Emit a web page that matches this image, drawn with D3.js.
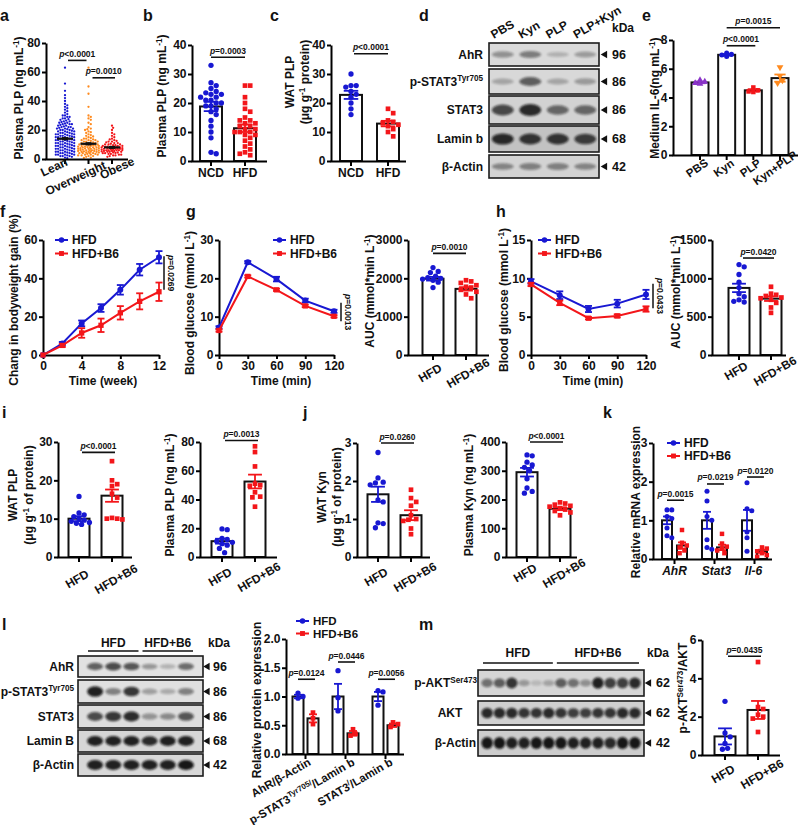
<!DOCTYPE html>
<html><head><meta charset="utf-8">
<script src="https://cdnjs.cloudflare.com/ajax/libs/d3/7.8.5/d3.min.js"></script>
<style>body{margin:0;background:#fff}svg{display:block}text{font-family:'Liberation Sans',Arial,sans-serif;font-weight:bold;fill:#111}</style>
</head><body><script>
// ---------------- DATA ----------------
const aCats=['Lean','Overweight','Obese'];
const aLean=[63,52,47,44,42,40,38,37,36,35,34,33,32,31,30,30,29,29,28,28,27.5,27,26.5,26,26,25.5,25,25,24.5,24,24,23.5,23,23,22.5,22,22,21.5,21,21,20.5,20,20,19.5,19,19,18.5,18,18,17.5,17,17,16.5,16,16,15.5,15,15,14.5,14,14,13.5,13,13,12.5,12,12,11.5,11,11,10.5,10,10,9.5,9,9,8.5,8,8,7.5,7,7,6.5,6,6,5.5,5,5,4.5,4,4,3.5,3,3,2.5,2,2,1.5,1,0.5,24,22,20,18,17,16,15,14,13,12,11,10,9,8,7,6,5,4,3,2,21,19,17,15,13,11,9,7,5,3];
const aOver=[63,50,45,36,30,29,28,27,25,24,22,21,20.5,20,19,18.5,18,17,16.5,16,15.5,15,14.5,14,13.5,13,13,12.5,12,12,11.5,11,11,10.5,10,10,10,9.5,9.5,9,9,8.5,8.5,8,8,8,7.5,7.5,7,7,7,6.5,6.5,6,6,6,5.5,5.5,5,5,5,4.5,4.5,4,4,4,3.5,3.5,3,3,2.5,2.5,2,2,1.5,1,0.8,12,11,10,9,8,7,6,5,4,3,14,13,9.2,8.2,7.2,6.2,5.2];
const aObese=[23,21.5,20,18,17,16,15,14,13.5,13,12.5,12,11.5,11,10.5,10,10,9.5,9.5,9,9,8.5,8.5,8,8,8,7.5,7.5,7.5,7,7,7,6.5,6.5,6.5,6,6,6,5.5,5.5,5.5,5,5,5,4.5,4.5,4,4,3.5,3.5,3,3,2.5,2.5,2,1.5,9,8,7,6,10,8.2,7.2,6.2,5.2,11,12,4.2];
const aMeans=[14,10.5,8], aSems=[0.6,0.6,0.5], aTicks=[0,20,40,60,80];

const bCats=['NCD','HFD'];
const bNCD=[33,27,26,25,24,23.5,23,23,22,22,21,21,20,20,19,19,18,17,16,14,12,10,8,3,2.5];
const bHFD=[26,26,22,20,18,17,15,14,14,13,13,12,12,11,11,10,10,10,9,9,8,7,6,5,4,3,2.5,2];
const bMeans=[18.8,11.3], bSems=[1.6,1.3], bTicks=[0,10,20,30,40];

const cNCD=[30,26,26,25.5,24,23,22,20,18,16];
const cHFD=[18,16.5,14,13.5,13,12.5,12,11,10,8.5];
const cMeans=[22.8,12.9], cSems=[1.4,0.95], cTicks=[0,10,20,30,40];

const dLanes=['PBS','Kyn','PLP','PLP+Kyn'];
const dRows=['AhR','p-STAT3{Tyr705}','STAT3','Lamin b','β-Actin'];
const dKda=[96,86,86,68,42];
const dBands=[[0.35,0.45,0.2,0.3],[0.25,0.6,0.25,0.3],[0.7,0.85,0.55,0.55],[0.85,0.8,0.8,0.75],[0.4,0.42,0.42,0.4]];

const eCats=['PBS','Kyn','PLP','Kyn+PLP'];
const ePts=[[5.2,5.1,5.0,4.95],[7.1,7.0,6.95,6.85],[4.7,4.5,4.42,4.38],[6.1,5.5,5.2,5.0]];
const eMeans=[5.05,6.97,4.5,5.35], eSems=[0.06,0.05,0.08,0.25], eTicks=[0,2,4,6,8];

const fWeeks=[0,2,4,6,8,10,12];
const fHFD=[0,6,16.5,24.5,34,44.5,51], fHFDe=[0,0.8,1.5,2,2.5,3,3.2];
const fB6=[0,5,11.5,15.5,22,28,33], fB6e=[0,0.8,2.5,3.5,3.5,4.2,4.8];

const gTime=[0,30,60,90,120];
const gHFD=[7.2,24.2,19.8,14.2,11.4], gHFDe=[0.3,0.3,0.6,0.5,0.4];
const gB6=[6.4,20.5,17,12.8,10.1], gB6e=[0.3,0.3,0.3,0.3,0.3];
const gAucHFD=[2280,2180,2150,2060,2020,2000,1980,1950,1900,1760];
const gAucB6=[1950,1920,1880,1820,1780,1760,1700,1650,1580,1480];
const gAucMeans=[1990,1725], gAucSems=[48,45];

const hHFD=[9.6,7.8,6.0,6.7,7.9], hHFDe=[0.3,0.5,0.4,0.5,0.6];
const hB6=[9.2,6.8,4.8,5.1,6.0], hB6e=[0.2,0.3,0.15,0.2,0.35];
const hAucHFD=[1180,1150,1050,950,880,800,760,720,700,690];
const hAucB6=[890,800,785,770,750,740,720,680,620,550];
const hAucMeans=[875,735], hAucSems=[55,30];

const grp=['HFD','HFD+B6'];
const iWatHFD=[15.8,11.5,11,10.5,10,9.6,9.3,9,8.8,8.5], iWatB6=[25,20,19,18.5,16.5,15.5,10.2,10,10,9.8];
const iWatMeans=[10,16], iWatSems=[0.65,1.6];
const iPlaHFD=[19.5,19,13,12.2,11,10.2,9.3,8.2,6,3], iPlaB6=[77,73,63,51,50,49.5,45,42,41.5,35];
const iPlaMeans=[11,52.5], iPlaSems=[1.7,4.8];
const jWatHFD=[2.75,2.08,1.97,1.95,1.9,1.5,1.45,0.9,0.88,0.77], jWatB6=[1.77,1.55,1.45,1.35,1.1,1.0,0.98,0.95,0.75,0.6];
const jWatMeans=[1.65,1.1], jWatSems=[0.2,0.13];
const jPlaHFD=[355,352,330,320,312,300,272,240,228,222], jPlaB6=[190,186,182,178,175,170,165,160,155,145];
const jPlaMeans=[295,168], jPlaSems=[15,5];

const kGenes=['AhR','Stat3','Il-6'];
const kHFD=[[1.27,1.27,1.1,1.05,0.8,0.6,0.55],[1.75,1.5,1.1,1.0,0.5,0.3,0.25],[1.97,1.3,1.25,0.7,0.55,0.2]];
const kB6=[[0.75,0.42,0.35,0.3,0.22,0.15],[0.65,0.4,0.32,0.27,0.22,0.15],[0.3,0.27,0.2,0.15,0.1,0.06]];
const kMeanHFD=[1,1,1], kSemHFD=[0.1,0.22,0.27], kMeanB6=[0.35,0.3,0.2], kSemB6=[0.08,0.07,0.04];
const kP=['=0.0015','=0.0219','=0.0120'], kPy=[1.52,1.94,2.12];

const lRows=['AhR','p-STAT3{Tyr705}','STAT3','Lamin B','β-Actin'];
const lKda=[96,86,86,68,42];
const lBands=[[0.6,0.7,0.65,0.35,0.22,0.55],[0.9,0.45,0.8,0.3,0.25,0.45],[0.7,0.8,0.85,0.35,0.4,0.65],[0.9,0.9,0.9,0.85,0.9,0.9],[0.9,0.9,0.9,0.9,0.9,0.95]];
const lRatios=['AhR/β-Actin','p-STAT3{Tyr705/}/Lamin b','STAT3{/}/Lamin b'];
const lHFD=[[1.06,1.0,0.97],[1.45,0.98,0.75],[1.1,1.08,0.85]], lB6=[[0.72,0.62,0.52],[0.43,0.35,0.32],[0.55,0.52,0.47]];
const lMeanHFD=[1,1,1], lSemHFD=[0.03,0.22,0.08], lMeanB6=[0.62,0.36,0.5], lSemB6=[0.07,0.04,0.03];
const lP=['=0.0124','=0.0446','=0.0056'], lPy=[1.3,1.6,1.3];

const mRows=['p-AKT{Ser473}','AKT','β-Actin'];
const mKda=[62,62,42];
const mBands=[[0.5,0.6,0.8,0.3,0.15,0.25,0.6,0.5,0.35,0.9,0.75,0.75,0.85],[0.85,0.85,0.85,0.8,0.8,0.85,0.8,0.75,0.75,0.8,0.8,0.85,0.85],[0.95,0.95,0.9,0.9,0.95,0.95,0.95,0.9,0.9,0.9,0.85,0.95,0.95]];
const mHFD=[2.8,1.15,0.95,0.6,0.35,0.3], mB6=[4.85,2.5,2.4,2.1,2.0,1.9,1.2];
const mMeans=[0.97,2.35], mSems=[0.42,0.47];

// ---------------- HELPERS ----------------
const BLUE='#1818d2', RED='#f3161a', ORANGE='#ff8a1e', PURPLE='#8a34c8', INK='#111';
const SYM={circle:d3.symbolCircle,square:d3.symbolSquare,tri:d3.symbolTriangle};
const svg=d3.select('body').append('svg').attr('width',800).attr('height',825);
svg.append('defs').append('filter').attr('id','bl').attr('x','-40%').attr('y','-80%').attr('width','180%').attr('height','260%')
  .append('feGaussianBlur').attr('stdDeviation',1.3);

function rt(t,s,fs){
  const toks=s.split(/(\{[^}]*\}|\[[^\]]*\])/).filter(x=>x.length);
  let up=false;
  toks.forEach(k=>{
    const ts=t.append('tspan');
    if(k[0]==='{'){ts.attr('font-size',fs*0.68).attr('dy',-fs*0.38).text(k.slice(1,-1));up=true;}
    else{ if(up){ts.attr('dy',fs*0.38);up=false;}
      if(k[0]==='['){ts.attr('font-style','italic').text(k.slice(1,-1));} else ts.text(k);}
  });
}
function txt(g,x,y,s,o={}){
  const fs=o.fs||12;
  const t=g.append('text').attr('font-size',fs).attr('text-anchor',o.anchor||'start');
  if(o.rot!=null) t.attr('transform',`translate(${x},${y}) rotate(${o.rot})`);
  else t.attr('x',x).attr('y',y);
  if(o.dy) t.attr('dy',o.dy);
  if(o.italic) t.attr('font-style','italic');
  rt(t,s,fs); return t;
}
function letter(x,y,s){txt(svg,x,y,s,{fs:16});}
function pl(g,x1,x2,yy,s){
  g.append('line').attr('x1',x1).attr('x2',x2).attr('y1',yy).attr('y2',yy).attr('stroke',INK).attr('stroke-width',1.6);
  txt(g,(x1+x2)/2,yy-3.5,'[p]'+s,{fs:8.5,anchor:'middle'});
}
function styleAxis(a,fs){
  a.attr('font-size',fs).attr('font-family',null);
  a.select('.domain').attr('stroke','#000').attr('stroke-width',2);
  a.selectAll('.tick line').attr('stroke','#000').attr('stroke-width',2);
  a.selectAll('.tick text').attr('fill',INK);
}
function yAxis(g,ax,y,ticks,fmt){
  const a=g.append('g').attr('transform',`translate(${ax},0)`)
    .call(d3.axisLeft(y).tickValues(ticks).tickSize(4).tickSizeOuter(0).tickFormat(fmt||(d=>d)));
  styleAxis(a,12); a.selectAll('.tick text').attr('x',-5.5);
  return a;
}
function dodge(vals,y,r,maxOff){
  const items=vals.map((v,i)=>({i,py:y(v)})).sort((a,b)=>a.py-b.py);
  const placed=[],out=[];
  items.forEach(p=>{
    let best=0,bs=-1;
    for(let k=0;k<80;k++){
      const off=k===0?0:(k%2?1:-1)*Math.ceil(k/2)*r;
      if(Math.abs(off)>maxOff) break;
      let md=Infinity;
      for(const q of placed){const dy=q.py-p.py; if(Math.abs(dy)<2*r){const d=Math.hypot(q.x-off,dy); if(d<md) md=d;}}
      if(md>=2*r){best=off;bs=Infinity;break;}
      if(md>bs){bs=md;best=off;}
    }
    placed.push({x:best,py:p.py}); out[p.i]=best;
  });
  return out;
}
function chart(o){
  const g=svg.append('g');
  const y=d3.scaleLinear().domain([0,o.max]).range([o.bot,o.top]);
  const bw=o.bw||21, pr=o.pr||2.6, ps=o.ps||22;
  if(!o.scatter){
    g.selectAll(null).data(o.bars).join('rect')
      .attr('x',b=>b.cx-bw/2).attr('y',b=>y(b.mean)).attr('width',bw).attr('height',b=>o.bot-y(b.mean))
      .attr('fill','#fff').attr('stroke',INK).attr('stroke-width',2);
  }
  o.bars.forEach(b=>{
    const off=dodge(b.pts,y,pr,o.spread!=null?o.spread:bw*0.55);
    const s=d3.symbol().type(SYM[b.shape]).size(ps);
    g.selectAll(null).data(b.pts).join('path').attr('d',s)
      .attr('transform',(d,i)=>`translate(${b.cx+off[i]},${y(d)})`+(b.down?' rotate(180)':''))
      .attr('fill',b.color);
  });
  o.bars.forEach(b=>{
    const c=o.scatter?INK:b.color, cw=o.cap||bw*0.33, lw=o.scatter?1.5:1.8;
    const y1=y(b.mean-b.sem), y2=y(b.mean+b.sem);
    g.append('line').attr('x1',b.cx).attr('x2',b.cx).attr('y1',y1).attr('y2',y2).attr('stroke',c).attr('stroke-width',lw);
    [y1,y2].forEach(v=>g.append('line').attr('x1',b.cx-cw).attr('x2',b.cx+cw).attr('y1',v).attr('y2',v).attr('stroke',c).attr('stroke-width',lw));
    if(o.scatter) g.append('line').attr('x1',b.cx-o.hw).attr('x2',b.cx+o.hw).attr('y1',y(b.mean)).attr('y2',y(b.mean)).attr('stroke',INK).attr('stroke-width',2.2);
  });
  yAxis(g,o.ax,y,o.ticks,o.fmt);
  g.append('line').attr('x1',o.ax-0.5).attr('x2',o.right).attr('y1',o.bot+0.5).attr('y2',o.bot+0.5).attr('stroke','#000').attr('stroke-width',2);
  (o.xt||o.bars.map(b=>b.cx)).forEach(xx=>g.append('line').attr('x1',xx).attr('x2',xx).attr('y1',o.bot).attr('y2',o.bot+5).attr('stroke','#000').attr('stroke-width',2));
  o.ylab.forEach((s,i)=>txt(g,o.ylx[i],o.yly,s,{rot:-90,anchor:'middle',dy:'0.35em',fs:o.yfs||12}));
  return {g,y};
}
function catLabels(g,labels,xs,bot,opt){
  labels.forEach((s,i)=>{
    const dx=Array.isArray(opt.dx)?opt.dx[i]:(opt.dx||0), dy=Array.isArray(opt.dy)?opt.dy[i]:opt.dy;
    if(opt.rot) txt(g,xs[i]+dx,bot+dy,s,{rot:-opt.rot,anchor:opt.anchor||'middle',dy:'0.35em',fs:opt.fs||12,italic:opt.italic});
    else txt(g,xs[i]+dx,bot+dy,s,{anchor:'middle',fs:opt.fs||12,italic:opt.italic});
  });
}
function legend(g,x0,y0,items,gap,fs){
  items.forEach((it,i)=>{
    const yy=y0+i*(gap||13.5);
    g.append('line').attr('x1',x0).attr('x2',x0+13).attr('y1',yy).attr('y2',yy).attr('stroke',it.c).attr('stroke-width',2);
    g.append('path').attr('d',d3.symbol().type(SYM[it.s]).size(24)).attr('transform',`translate(${x0+6.5},${yy})`).attr('fill',it.c);
    txt(g,x0+17,yy,it.t,{dy:'0.35em',fs:fs||12});
  });
}
function lineChart(o){
  const g=svg.append('g');
  const x=d3.scaleLinear().domain(o.xdom).range([o.ax,o.xr]);
  const y=d3.scaleLinear().domain([0,o.ymax]).range([o.bot,o.top]);
  yAxis(g,o.ax,y,o.yticks);
  const xa=g.append('g').attr('transform',`translate(0,${o.bot})`).call(d3.axisBottom(x).tickValues(o.xticks).tickSize(4).tickSizeOuter(0));
  styleAxis(xa,12); xa.selectAll('.tick text').attr('y',6);
  o.series.forEach(s=>{
    const pts=o.xs.map((t,i)=>({t,v:s.v[i],e:s.e[i]}));
    g.append('path').datum(pts).attr('d',d3.line().x(d=>x(d.t)).y(d=>y(d.v))).attr('fill','none').attr('stroke',s.c).attr('stroke-width',2);
    pts.filter(d=>d.e>0).forEach(d=>{
      const y1=y(d.v-d.e),y2=y(d.v+d.e),cx=x(d.t);
      g.append('line').attr('x1',cx).attr('x2',cx).attr('y1',y1).attr('y2',y2).attr('stroke',s.c).attr('stroke-width',1.8);
      [y1,y2].forEach(v=>g.append('line').attr('x1',cx-3.5).attr('x2',cx+3.5).attr('y1',v).attr('y2',v).attr('stroke',s.c).attr('stroke-width',1.8));
    });
    g.selectAll(null).data(pts).join('path').attr('d',d3.symbol().type(SYM[s.s]).size(28))
      .attr('transform',d=>`translate(${x(d.t)},${y(d.v)})`).attr('fill',s.c);
  });
  legend(g,o.lx,o.ly,o.series.map(s=>({c:s.c,s:s.s,t:s.name})));
  const [v1,v2]=o.pv;
  g.append('line').attr('x1',o.px).attr('x2',o.px).attr('y1',y(v1)).attr('y2',y(v2)).attr('stroke',INK).attr('stroke-width',1.5);
  txt(g,o.px+7,(y(v1)+y(v2))/2,'[p]'+o.ptxt,{rot:90,anchor:'middle',dy:'0.35em',fs:8.5});
  txt(g,o.ylx,o.yly,o.ylab,{rot:-90,anchor:'middle',dy:'0.35em',fs:12});
  txt(g,o.xlx,o.xly,o.xlab,{anchor:'middle',fs:12});
  return {g,x,y};
}
function blot(o){
  const g=svg.append('g');
  const n=o.bands[0].length;
  const x=d3.scaleBand().domain(d3.range(n)).range([o.x0+o.pad,o.x1-o.pad]);
  o.ry.forEach((r,ri)=>{
    const [y0,y1]=r,h=y1-y0,cy=(y0+y1)/2;
    g.append('rect').attr('x',o.x0).attr('y',y0).attr('width',o.x1-o.x0).attr('height',h)
      .attr('fill',o.bg[ri]).attr('stroke','#1c1c1c').attr('stroke-width',1.6);
    g.selectAll(null).data(o.bands[ri]).join('ellipse')
      .attr('cx',(d,i)=>x(i)+x.bandwidth()/2).attr('cy',cy)
      .attr('rx',x.bandwidth()*o.rxf).attr('ry',d=>h*(0.08+0.16*d))
      .attr('fill','#0d0d0d').attr('opacity',d=>Math.min(1,d)).attr('filter','url(#bl)');
    const la=o.labAnchor?o.labAnchor[ri]:'end', lx=o.labX?o.labX[ri]:o.lx;
    txt(g,lx,cy,o.rows[ri],{anchor:la,dy:'0.35em',fs:12});
    g.append('path').attr('d',d3.symbol().type(d3.symbolTriangle).size(24)).attr('transform',`translate(${o.arx},${cy}) rotate(-90)`).attr('fill',INK);
    txt(g,o.nx,cy,String(o.kda[ri]),{dy:'0.35em',fs:12.5});
  });
  return {g,x};
}

// ---------------- PANEL a ----------------
letter(0,21,'a');
{
  const x=d3.scalePoint().domain(aCats).range([65,112]);
  const cols=[BLUE,ORANGE,RED], pts=[aLean,aOver,aObese];
  const {g,y}=chart({ax:46,top:43,bot:159,right:128,max:80,ticks:aTicks,scatter:true,hw:8,pr:1.15,ps:4.2,spread:11,cap:3,
    bars:aCats.map((c,i)=>({cx:x(c),mean:aMeans[i],sem:aSems[i],pts:pts[i],color:cols[i],shape:'circle'})),
    ylab:['Plasma PLP (ng mL{-1})'],ylx:[19],yly:98});
  catLabels(g,aCats,aCats.map(c=>x(c)),159,{rot:25,dx:[-11,-13,5],dy:[8,19,9]});
  pl(g,x('Lean')+3,x('Overweight')-2,y(68),'<0.0001');
  pl(g,x('Overweight')+4,x('Obese')+3,y(56),'=0.0010');
}
// ---------------- PANEL b ----------------
letter(143,21,'b');
{
  const x=d3.scalePoint().domain(bCats).range([211,245]);
  const {g,y}=chart({ax:192,top:45,bot:161,right:267,max:40,ticks:bTicks,bw:22,
    bars:[{cx:x('NCD'),mean:bMeans[0],sem:bSems[0],pts:bNCD,color:BLUE,shape:'circle'},{cx:x('HFD'),mean:bMeans[1],sem:bSems[1],pts:bHFD,color:RED,shape:'square'}],
    ylab:['Plasma  PLP (ng mL{-1})'],ylx:[162],yly:96});
  catLabels(g,bCats,bCats.map(c=>x(c)),161,{dy:16});
  pl(g,x('NCD'),x('HFD'),y(35.8),'=0.0003');
}
// ---------------- PANEL c ----------------
letter(270,21,'c');
{
  const x=d3.scalePoint().domain(bCats).range([351,388]);
  const {g,y}=chart({ax:331,top:45,bot:161,right:406,max:40,ticks:cTicks,bw:22,
    bars:[{cx:x('NCD'),mean:cMeans[0],sem:cSems[0],pts:cNCD,color:BLUE,shape:'circle'},{cx:x('HFD'),mean:cMeans[1],sem:cSems[1],pts:cHFD,color:RED,shape:'square'}],
    ylab:['WAT  PLP','(μg g{-1} protein)'],ylx:[290,305],yly:82});
  catLabels(g,bCats,bCats.map(c=>x(c)),161,{dy:16});
  pl(g,x('NCD')+3,x('HFD'),y(37),'<0.0001');
}
// ---------------- PANEL d ----------------
letter(419,21,'d');
{
  const {g,x}=blot({x0:489,x1:599,pad:0,rxf:0.4,bands:dBands,rows:dRows,kda:dKda,lx:483,arx:605,nx:612,
    ry:[[43,66],[69,94],[96,124],[126,152],[155,178]],bg:['#dadada','#d8d8d8','#d2d2d2','#c2c2c2','#d3d3d3']});
  dLanes.forEach((l,i)=>txt(g,x(i)+x.bandwidth()/2-9,39,l,{rot:-30,anchor:'start',fs:12}));
  txt(g,612,32,'kDa',{fs:12});
}
// ---------------- PANEL e ----------------
letter(642,21,'e');
{
  const x=d3.scalePoint().domain(eCats).range([700,780]);
  const cols=[PURPLE,BLUE,RED,ORANGE], shp=['tri','circle','square','tri'];
  const {g,y}=chart({ax:673,top:40,bot:155,right:798,max:8,ticks:eTicks,bw:17,pr:2.4,ps:20,
    bars:eCats.map((c,i)=>({cx:x(c),mean:eMeans[i],sem:eSems[i],pts:ePts[i],color:cols[i],shape:shp[i],down:i===3})),
    ylab:['Medium IL-6(ng mL{-1})'],ylx:[655],yly:98});
  catLabels(g,eCats,eCats.map(c=>x(c)),155,{rot:35,dx:[-3,-3,-3,-5],dy:13,fs:11.5});
  pl(g,x('Kyn'),x('PLP')+2,y(7.6),'<0.0001');
  pl(g,x('Kyn'),x('Kyn+PLP'),y(8.85),'=0.0015');
}
// ---------------- PANEL f ----------------
letter(0,217,'f');
lineChart({ax:43,xr:159,top:240,bot:355,xdom:[0,12],xticks:[0,4,8,12],xs:fWeeks,ymax:60,yticks:[0,20,40,60],
  series:[{v:fHFD,e:fHFDe,c:BLUE,s:'circle',name:'HFD'},{v:fB6,e:fB6e,c:RED,s:'square',name:'HFD+B6'}],
  lx:55,ly:240,px:164,pv:[51.5,34],ptxt:'=0.0269',ylab:'Chang in bodyweight gain (%)',ylx:14,yly:300,xlab:'Time (week)',xlx:103,xly:385});
// ---------------- PANEL g ----------------
letter(186,217,'g');
lineChart({ax:219,xr:334,top:240,bot:355,xdom:[0,120],xticks:[0,30,60,90,120],xs:gTime,ymax:30,yticks:[0,10,20,30],
  series:[{v:gHFD,e:gHFDe,c:BLUE,s:'circle',name:'HFD'},{v:gB6,e:gB6e,c:RED,s:'square',name:'HFD+B6'}],
  lx:273,ly:240,px:341,pv:[13.6,8.8],ptxt:'=0.0013',ylab:'Blood glucose (mmol L{-1})',ylx:190,yly:303,xlab:'Time (min)',xlx:281,xly:385});
{
  const x=d3.scalePoint().domain(grp).range([433,466]);
  const {g,y}=chart({ax:408,top:240,bot:355,right:489,max:3000,ticks:[0,1000,2000,3000],bw:21,
    bars:[{cx:x(grp[0]),mean:gAucMeans[0],sem:gAucSems[0],pts:gAucHFD,color:BLUE,shape:'circle'},{cx:x(grp[1]),mean:gAucMeans[1],sem:gAucSems[1],pts:gAucB6,color:RED,shape:'square'}],
    ylab:['AUC (mmol*min L{-1})'],ylx:[370],yly:291});
  catLabels(g,grp,grp.map(c=>x(c)),355,{rot:30,dx:[-3,2],dy:18});
  pl(g,x(grp[0]),x(grp[1]),y(2650),'=0.0010');
}
// ---------------- PANEL h ----------------
letter(496,217,'h');
lineChart({ax:531,xr:646,top:240,bot:355,xdom:[0,120],xticks:[0,30,60,90,120],xs:gTime,ymax:15,yticks:[0,5,10,15],
  series:[{v:hHFD,e:hHFDe,c:BLUE,s:'circle',name:'HFD'},{v:hB6,e:hB6e,c:RED,s:'square',name:'HFD+B6'}],
  lx:538,ly:240,px:653,pv:[9.3,6.1],ptxt:'=0.0433',ylab:'Blood glucose (mmol L{-1})',ylx:504,yly:300,xlab:'Time (min)',xlx:593,xly:385});
{
  const x=d3.scalePoint().domain(grp).range([739,771]);
  const {g,y}=chart({ax:712,top:240,bot:355,right:786,max:1500,ticks:[0,500,1000,1500],bw:21,
    bars:[{cx:x(grp[0]),mean:hAucMeans[0],sem:hAucSems[0],pts:hAucHFD,color:BLUE,shape:'circle'},{cx:x(grp[1]),mean:hAucMeans[1],sem:hAucSems[1],pts:hAucB6,color:RED,shape:'square'}],
    ylab:['AUC (mmol*min L{-1})'],ylx:[676],yly:292});
  catLabels(g,grp,grp.map(c=>x(c)),355,{rot:30,dx:[-3,4],dy:16});
  pl(g,x(grp[0])+4,x(grp[1])+3,y(1265),'=0.0420');
}
// ---------------- PANEL i ----------------
letter(2,418,'i');
function twoBar(o){
  const x=d3.scalePoint().domain(grp).range(o.cx);
  const r=chart({ax:o.ax,top:o.top,bot:o.bot,right:o.right,max:o.max,ticks:o.ticks,bw:21,
    bars:[{cx:x(grp[0]),mean:o.means[0],sem:o.sems[0],pts:o.a,color:BLUE,shape:'circle'},{cx:x(grp[1]),mean:o.means[1],sem:o.sems[1],pts:o.b,color:RED,shape:'square'}],
    ylab:o.ylab,ylx:o.ylx,yly:o.yly});
  catLabels(r.g,grp,grp.map(c=>x(c)),o.bot,{rot:30,dx:[-2,4],dy:o.ldy});
  pl(r.g,x(grp[0])+3,x(grp[1])+3,r.y(o.pv),o.p);
}
twoBar({ax:58,top:442,bot:557,right:132,cx:[79,112],max:30,ticks:[0,10,20,30],means:iWatMeans,sems:iWatSems,a:iWatHFD,b:iWatB6,
  ylab:['WAT PLP','(μg g{-1} of protein)'],ylx:[13,29],yly:495,ldy:22,pv:27.3,p:'<0.0001'});
twoBar({ax:200,top:442,bot:557,right:277,cx:[222,255],max:80,ticks:[0,20,40,60,80],means:iPlaMeans,sems:iPlaSems,a:iPlaHFD,b:iPlaB6,
  ylab:['Plasma PLP (ng mL{-1})'],ylx:[170],yly:495,ldy:20,pv:81,p:'=0.0013'});
// ---------------- PANEL j ----------------
letter(303,418,'j');
twoBar({ax:357,top:443,bot:557,right:430,cx:[378,411],max:3,ticks:[0,1,2,3],means:jWatMeans,sems:jWatSems,a:jWatHFD,b:jWatB6,
  ylab:['WAT Kyn','(μg g{-1} of protein)'],ylx:[322,337],yly:497,ldy:20,pv:3.0,p:'=0.0260'});
twoBar({ax:506,top:442,bot:557,right:577,cx:[527,560],max:400,ticks:[0,100,200,300,400],means:jPlaMeans,sems:jPlaSems,a:jPlaHFD,b:jPlaB6,
  ylab:['Plasma Kyn (ng mL{-1})'],ylx:[469],yly:495,ldy:16,pv:400,p:'<0.0001'});
// ---------------- PANEL k ----------------
letter(603,418,'k');
{
  const gx=d3.scalePoint().domain(kGenes).range([674.5,754.5]);
  const sx=d3.scalePoint().domain(grp).range([-7.5,7.5]);
  const bars=[];
  kGenes.forEach((k,i)=>{
    bars.push({cx:gx(k)+sx(grp[0]),mean:kMeanHFD[i],sem:kSemHFD[i],pts:kHFD[i],color:BLUE,shape:'circle'});
    bars.push({cx:gx(k)+sx(grp[1]),mean:kMeanB6[i],sem:kSemB6[i],pts:kB6[i],color:RED,shape:'square'});
  });
  const {g,y}=chart({ax:653,top:443,bot:559,right:772,max:3,ticks:[0,1,2,3],bw:10,pr:2.4,ps:20,spread:6,cap:4,
    bars,xt:kGenes.map(k=>gx(k)),ylab:['Relative mRNA expression'],ylx:[636],yly:502});
  catLabels(g,kGenes,kGenes.map(k=>gx(k)),559,{dy:16,italic:true,dx:[0,2,-1]});
  kGenes.forEach((k,i)=>pl(g,gx(k)+sx(grp[0]),gx(k)+sx(grp[1])+2,y(kPy[i]),kP[i]));
  legend(g,667,443,[{c:BLUE,s:'circle',t:'HFD'},{c:RED,s:'square',t:'HFD+B6'}],13);
}
// ---------------- PANEL l ----------------
letter(2,630,'l');
{
  const {g,x}=blot({x0:78,x1:203,pad:8,rxf:0.44,bands:lBands,rows:lRows,kda:lKda,lx:74,arx:207.5,nx:213,
    ry:[[656,677],[680,703],[705,728],[730,752],[754,776]],bg:['#e2e2e2','#e0e0e0','#dddddd','#d6d6d6','#d8d8d8']});
  const bw=x.bandwidth();
  [[0,2,'HFD'],[3,5,'HFD+B6']].forEach(([a,b,t])=>{
    g.append('line').attr('x1',x(a)+2).attr('x2',x(b)+bw-2).attr('y1',651).attr('y2',651).attr('stroke',INK).attr('stroke-width',1.5);
    txt(g,(x(a)+x(b)+bw)/2,647,t,{anchor:'middle',fs:12});
  });
  txt(g,208,647,'kDa',{fs:12});
}
{
  const gx=d3.scalePoint().domain(lRatios).range([305.5,385.5]);
  const sx=d3.scalePoint().domain(grp).range([-7.5,7.5]);
  const bars=[];
  lRatios.forEach((k,i)=>{
    bars.push({cx:gx(k)+sx(grp[0]),mean:lMeanHFD[i],sem:lSemHFD[i],pts:lHFD[i],color:BLUE,shape:'circle'});
    bars.push({cx:gx(k)+sx(grp[1]),mean:lMeanB6[i],sem:lSemB6[i],pts:lB6[i],color:RED,shape:'square'});
  });
  const {g,y}=chart({ax:286,top:639,bot:754,right:404,max:2,ticks:[0,0.5,1,1.5,2],fmt:d3.format('.1f'),bw:11,pr:2.5,ps:22,spread:5,cap:4,
    bars,xt:lRatios.map(k=>gx(k)),ylab:['Relative protein expression'],ylx:[257],yly:700});
  catLabels(g,lRatios,lRatios.map(k=>gx(k)),754,{rot:30,anchor:'end',dx:[4,8,6],dy:7,fs:11.5});
  lRatios.forEach((k,i)=>pl(g,gx(k)+sx(grp[0]),gx(k)+sx(grp[1])+2,y(lPy[i]),lP[i]));
  legend(g,296,621,[{c:BLUE,s:'circle',t:'HFD'},{c:RED,s:'square',t:'HFD+B6'}],12.5,11.5);
}
// ---------------- PANEL m ----------------
letter(419,630,'m');
{
  const {g,x}=blot({x0:478,x1:644,pad:3,rxf:0.47,bands:mBands,rows:mRows,kda:mKda,lx:476,arx:649,nx:656,
    labX:[477,450,476],labAnchor:['end','middle','end'],
    ry:[[670,696],[701,725],[730,756]],bg:['#d6d6d6','#d0d0d0','#cdcdcd']});
  const bw=x.bandwidth();
  [[0,5,'HFD'],[6,12,'HFD+B6']].forEach(([a,b,t])=>{
    g.append('line').attr('x1',x(a)+2).attr('x2',x(b)+bw-2).attr('y1',663).attr('y2',663).attr('stroke',INK).attr('stroke-width',1.5);
    txt(g,(x(a)+x(b)+bw)/2,657,t,{anchor:'middle',fs:12});
  });
  txt(g,647,657,'kDa',{fs:12});
}
twoBar({ax:702,top:640,bot:755,right:780,cx:[725,758],max:6,ticks:[0,2,4,6],means:mMeans,sems:mSems,a:mHFD,b:mB6,
  ylab:['p-AKT{Ser473}/AKT'],ylx:[683],yly:688,ldy:19,pv:5.15,p:'=0.0435'});
</script></body></html>
